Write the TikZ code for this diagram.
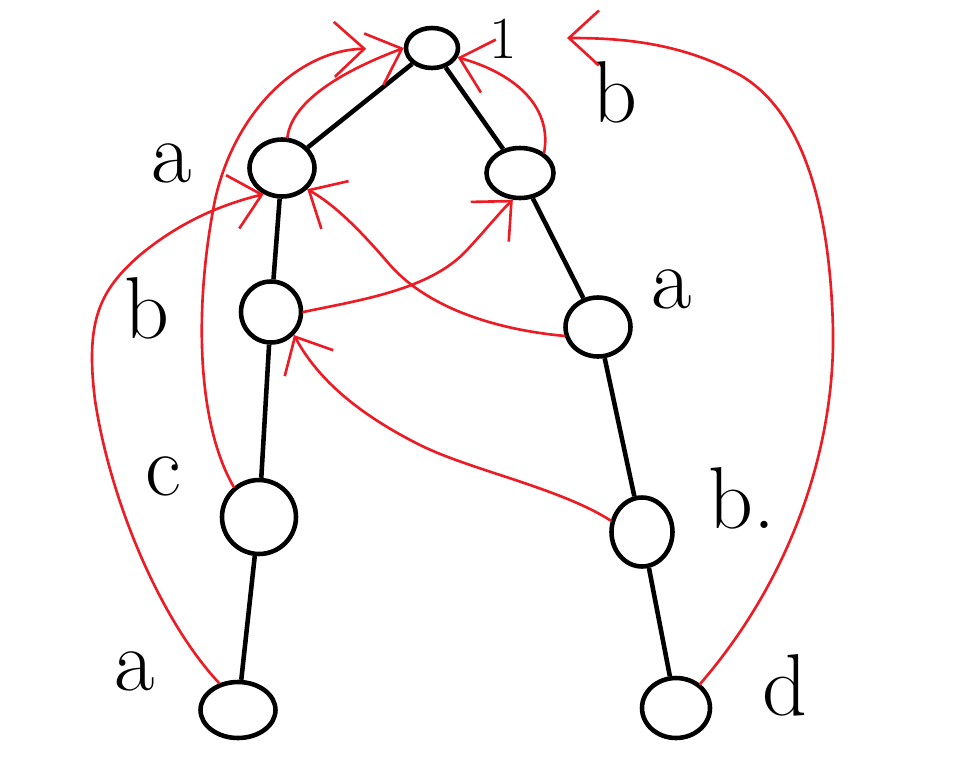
\documentclass[tikz,border=0pt]{standalone}
\usepackage{tikz}
\usetikzlibrary{arrows.meta,shapes.geometric}
\definecolor{paintred}{HTML}{ED1C24}
\tikzset{
  trienode/.style={ellipse, draw=black, line width=2.6pt, fill=white, inner sep=0pt},
  trieedge/.style={line width=2.6pt, draw=black},
  faillink/.style={-{Straight Barb[length=6mm,width=11mm,line width=1.5pt]}, line width=1.5pt, draw=paintred, line cap=round, line join=round},
  letter/.style={font=\fontsize{50}{50}\selectfont, inner sep=0pt, anchor=base}
}

\begin{document}
\begin{tikzpicture}[x=0.02cm,y=-0.02cm]
  \useasboundingbox (0,0) rectangle (958,765);

  % nodes
  \node[trienode, minimum width=1.04cm, minimum height=0.80cm] (root) at (432,48) {};
  \node[trienode, minimum width=1.30cm, minimum height=1.14cm] (a) at (282,168) {};
  \node[trienode, minimum width=1.20cm, minimum height=1.22cm] (ab) at (271,312) {};
  \node[trienode, minimum width=1.48cm, minimum height=1.48cm] (abc) at (259,517) {};
  \node[trienode, minimum width=1.50cm, minimum height=1.12cm] (abca) at (238,710) {};
  \node[trienode, minimum width=1.34cm, minimum height=1.00cm] (b) at (520,173) {};
  \node[trienode, minimum width=1.30cm, minimum height=1.18cm] (ba) at (598,327) {};
  \node[trienode, minimum width=1.22cm, minimum height=1.38cm] (bab) at (642,532) {};
  \node[trienode, minimum width=1.36cm, minimum height=1.20cm] (babd) at (676,708) {};

  % labels
  \node[letter, font=\fontsize{34}{34}\selectfont] (lroot) at (503,58) {1};
  \node[letter] (la) at (172,182) {a};
  \node[letter] (lab) at (147,338) {b};
  \node[letter] (labc) at (163,495) {c};
  \node[letter] (labca) at (135,690) {a};
  \node[letter] (lb) at (615,122) {b};
  \node[letter] (lba) at (672,308) {a};
  \node[letter] (lbab) at (742,528) {b.};
  \node[letter] (lbabd) at (785,715) {d};

  % tree edges
  \draw[trieedge] (root) -- (a);
  \draw[trieedge] (a) -- (ab);
  \draw[trieedge] (ab) -- (abc);
  \draw[trieedge] (abc) -- (abca);
  \draw[trieedge] (root) -- (b);
  \draw[trieedge] (b) -- (ba);
  \draw[trieedge] (ba) -- (bab);
  \draw[trieedge] (bab) -- (babd);

  % failure links
  \coordinate (rootR) at (567,38);
  \draw[faillink] (a.80) .. controls (292,100) and (345,70) .. (root.west);
  \draw[faillink] (b.40) .. controls (552,110) and (520,75) .. (root.-20);
  \draw[faillink, shorten >=0.75cm] (abc.130) .. controls (195,420) and (195,300) .. (215,200)
    .. controls (235,110) and (300,50) .. (root.west);
  \draw[faillink] (babd.45) .. controls (790,580) and (835,450) .. (833,330)
    .. controls (830,200) and (800,110) .. (740,75)
    .. controls (680,42) and (620,38) .. (rootR);
  \draw[faillink] (abca.125) .. controls (160,620) and (110,500) .. (95,400)
    .. controls (85,320) and (100,290) .. (140,255)
    .. controls (180,222) and (220,205) .. (a.235);
  \draw[faillink] (ba.195) .. controls (500,330) and (430,310) .. (390,265)
    .. controls (360,230) and (335,205) .. (a.-40);
  \draw[faillink] (ab.east) .. controls (360,300) and (430,290) .. (467,250)
    .. controls (490,225) and (500,212) .. (b.255);
  \draw[faillink] (bab.160) .. controls (560,488) and (470,470) .. (420,445)
    .. controls (360,415) and (318,380) .. (ab.-45);

\end{tikzpicture}
\end{document}
